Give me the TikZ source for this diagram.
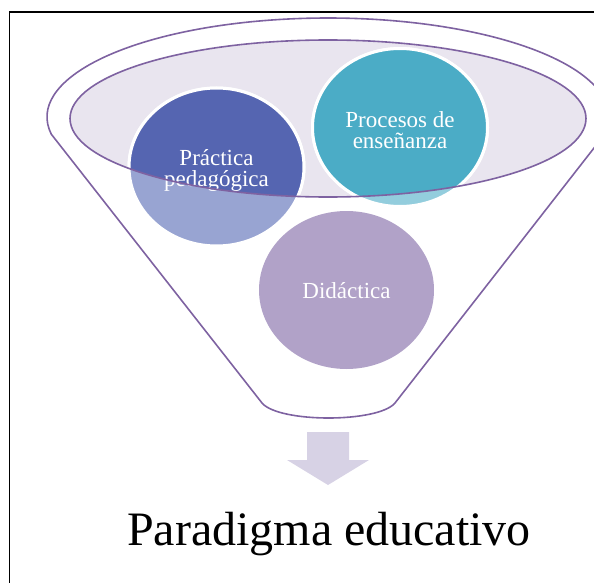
\documentclass[tikz,border=0pt]{standalone}
\usepackage{fontspec}
\usetikzlibrary{shapes.geometric}
\setmainfont{Liberation Serif}
\definecolor{funline}{HTML}{7E62A1}
\definecolor{topfill}{HTML}{E9E5EF}
\definecolor{pracfull}{HTML}{5565B1}
\definecolor{praclight}{HTML}{98A4D2}
\definecolor{procfull}{HTML}{4BACC6}
\definecolor{proclight}{HTML}{93CDDD}
\definecolor{didcol}{HTML}{B1A2C8}
\definecolor{arrowcol}{HTML}{D7D2E5}
\tikzset{
  bubble/.style={ellipse, minimum width=175pt, minimum height=158pt, inner sep=0pt, draw=white, line width=3pt},
  bubtext/.style={text=white, align=center, font=\fontsize{23}{21}\selectfont},
  funnel/.style={draw=funline, line width=1.6pt},
}
\begin{document}
\begin{tikzpicture}[x=1pt,y=-1pt]
\useasboundingbox (0,0) rectangle (594,583);
% funnel top fill
\fill[topfill] (328,118.5) ellipse [x radius=258pt, y radius=78.5pt];
% bubbles (light part, outside the top ellipse)
\node[bubble, fill=praclight] (prac) at (216.5,167) {};
\node[bubble, fill=proclight] (proc) at (400,127.5) {};
\node[bubble, fill=didcol, draw=none] (did) at (346.5,290) {};
% full colours inside the top ellipse
\begin{scope}
  \clip (328,118.5) ellipse [x radius=258pt, y radius=78.5pt];
  \node[bubble, fill=pracfull] at (prac.center) {};
  \node[bubble, fill=procfull] at (proc.center) {};
\end{scope}
% texts
\node[bubtext] (pract) at (216.5,170) {Práctica\\pedagógica};
\node[bubtext] (proct) at (400,130) {Procesos de\\enseñanza};
\node[bubtext] (didt) at (346.5,291) {Didáctica};
% outlines
\draw[funnel] (328,118.5) ellipse [x radius=258pt, y radius=78.5pt];
\draw[funnel] (51.3,134.2) arc [start angle=190, end angle=-10, x radius=281pt, y radius=99pt]
  -- (395,403) .. controls (378,423) and (279,423) .. (262,403) -- cycle;
% arrow
\fill[arrowcol] (307,432) -- (349,432) -- (349,460) -- (369,460) -- (328,485) -- (287,460) -- (307,460) -- cycle;
% result text
\node[anchor=base, font=\fontsize{48}{48}\selectfont] (para) at (329,545) {Paradigma educativo};
% frame
\draw[line width=1.5pt] (594,12) -- (9.5,12) -- (9.5,583);
\end{tikzpicture}
\end{document}
